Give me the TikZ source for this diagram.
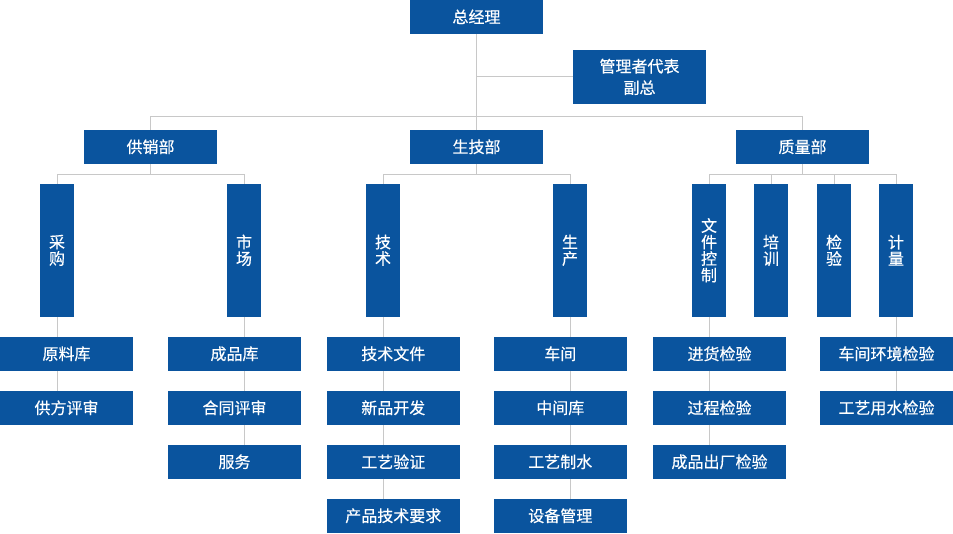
\documentclass[tikz,border=0pt]{standalone}
\usepackage{fontspec}
\setmainfont{Noto Sans CJK SC}[BoldFont=Noto Sans CJK SC,BoldFeatures={FakeBold=0.4}]
\definecolor{boxblue}{HTML}{0A549E}
\definecolor{linegray}{HTML}{C8C8C8}
\begin{document}
\begin{tikzpicture}[x=1pt,y=-1pt,
  box/.style={rectangle,fill=boxblue,text=white,inner sep=0pt,
    minimum width=133pt,minimum height=33.7pt,align=center,
    font=\fontsize{16}{21.5}\selectfont\bfseries},
  vbox/.style={rectangle,fill=boxblue,text=white,inner sep=0pt,
    minimum width=34pt,minimum height=132.7pt,align=center,
    font=\fontsize{16}{16.5}\selectfont\bfseries},
  conn/.style={draw=linegray,line width=1pt}]
\useasboundingbox (0,0) rectangle (953,533);
% top level
\node[box] (gm) at (476.5,16.8) {总经理};
\node[box,minimum height=53.7pt] (rep) at (639.5,76.9) {管理者代表\\副总};
\node[box] (gx) at (150.5,146.8) {供销部};
\node[box] (sj) at (476.5,146.8) {生技部};
\node[box] (zl) at (802.5,146.8) {质量部};
% vertical boxes
\node[vbox] (cg) at (57,250.3) {采\\购};
\node[vbox] (sc) at (244,250.3) {市\\场};
\node[vbox] (js) at (383,250.3) {技\\术};
\node[vbox] (scn) at (570,250.3) {生\\产};
\node[vbox] (wj) at (709,250.3) {文\\件\\控\\制};
\node[vbox] (px) at (771,250.3) {培\\训};
\node[vbox] (jy) at (834,250.3) {检\\验};
\node[vbox] (jl) at (896,250.3) {计\\量};
% lower boxes
\node[box] (a1) at (66.5,353.8) {原料库};
\node[box] (a2) at (66.5,407.8) {供方评审};
\node[box] (b1) at (234.5,353.8) {成品库};
\node[box] (b2) at (234.5,407.8) {合同评审};
\node[box] (b3) at (234.5,461.8) {服务};
\node[box] (c1) at (393.3,353.8) {技术文件};
\node[box] (c2) at (393.3,407.8) {新品开发};
\node[box] (c3) at (393.3,461.8) {工艺验证};
\node[box] (c4) at (393.3,515.8) {产品技术要求};
\node[box] (d1) at (560.3,353.8) {车间};
\node[box] (d2) at (560.3,407.8) {中间库};
\node[box] (d3) at (560.3,461.8) {工艺制水};
\node[box] (d4) at (560.3,515.8) {设备管理};
\node[box] (e1) at (719.5,353.8) {进货检验};
\node[box] (e2) at (719.5,407.8) {过程检验};
\node[box] (e3) at (719.5,461.8) {成品出厂检验};
\node[box] (f1) at (886.5,353.8) {车间环境检验};
\node[box] (f2) at (886.5,407.8) {工艺用水检验};
% helper coordinates
\coordinate (hbar) at (0,116.3);
\coordinate (sub) at (0,174);
% connectors top
\draw[conn] (gm.south) -- (gm.south |- sj.north);
\draw[conn] (gm.south |- rep.west) -- (rep.west);
\draw[conn] (gx.north) -- (gx.north |- hbar) -- (zl.north |- hbar) -- (zl.north);
% dept to sub-units
\draw[conn] (gx.south) -- (gx.south |- sub);
\draw[conn] (cg.north) -- (cg.north |- sub) -- (sc.north |- sub) -- (sc.north);
\draw[conn] (sj.south) -- (sj.south |- sub);
\draw[conn] (js.north) -- (js.north |- sub) -- (scn.north |- sub) -- (scn.north);
\draw[conn] (zl.south) -- (zl.south |- sub);
\draw[conn] (wj.north) -- (wj.north |- sub) -- (jl.north |- sub) -- (jl.north);
\draw[conn] (px.north) -- (px.north |- sub);
\draw[conn] (jy.north) -- (jy.north |- sub);
% sub-units to lower boxes
\draw[conn] (cg.south) -- (cg.south |- a1.north);
\draw[conn] (cg.south |- a1.south) -- (cg.south |- a2.north);
\draw[conn] (sc.south) -- (sc.south |- b1.north);
\draw[conn] (sc.south |- b1.south) -- (sc.south |- b2.north);
\draw[conn] (sc.south |- b2.south) -- (sc.south |- b3.north);
\draw[conn] (js.south) -- (js.south |- c1.north);
\draw[conn] (js.south |- c1.south) -- (js.south |- c2.north);
\draw[conn] (js.south |- c2.south) -- (js.south |- c3.north);
\draw[conn] (js.south |- c3.south) -- (js.south |- c4.north);
\draw[conn] (scn.south) -- (scn.south |- d1.north);
\draw[conn] (scn.south |- d1.south) -- (scn.south |- d2.north);
\draw[conn] (scn.south |- d2.south) -- (scn.south |- d3.north);
\draw[conn] (scn.south |- d3.south) -- (scn.south |- d4.north);
\draw[conn] (wj.south) -- (wj.south |- e1.north);
\draw[conn] (wj.south |- e1.south) -- (wj.south |- e2.north);
\draw[conn] (wj.south |- e2.south) -- (wj.south |- e3.north);
\draw[conn] (jl.south) -- (jl.south |- f1.north);
\draw[conn] (jl.south |- f1.south) -- (jl.south |- f2.north);
\end{tikzpicture}
\end{document}
